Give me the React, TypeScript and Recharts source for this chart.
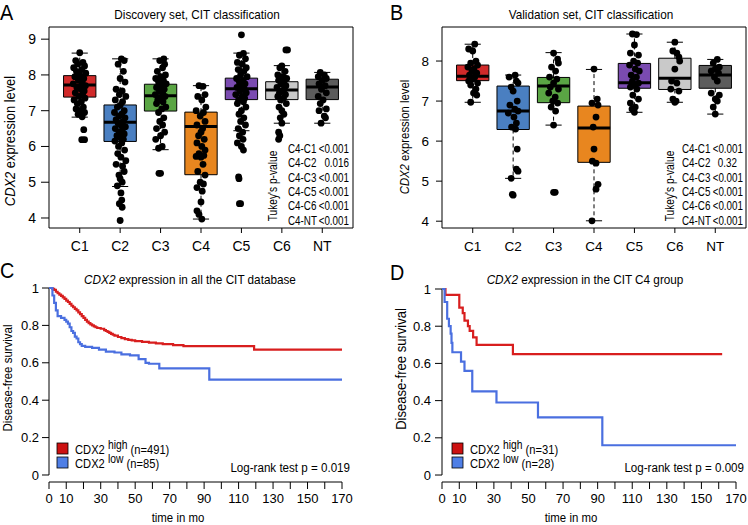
import React from 'react';
import {
  ComposedChart,
  LineChart,
  Line,
  Scatter,
  XAxis,
  YAxis,
  ReferenceArea,
  ReferenceLine,
} from 'recharts';

const FONT = "'Liberation Sans', Arial, sans-serif";

const CATS = ['C1', 'C2', 'C3', 'C4', 'C5', 'C6', 'NT'];
const BOX_COLORS = ['#d12a2a', '#4a7fc1', '#5aa544', '#e8861f', '#7a4bb0', '#c9c9c9', '#5c5c5c'];

// A: discovery set box stats
const A_Q1 = [7.38, 6.14, 6.99, 5.21, 7.31, 7.31, 7.31];
const A_MED = [7.72, 6.68, 7.42, 6.56, 7.61, 7.58, 7.66];
const A_Q3 = [7.98, 7.16, 7.74, 6.96, 7.91, 7.81, 7.88];
const A_LO = [6.82, 4.88, 5.91, 3.97, 6.44, 6.65, 6.65];
const A_HI = [8.61, 8.45, 8.45, 7.7, 8.61, 8.26, 8.07];

// jittered points, [offset, value]
const A_PTS: number[][][] = [
  [[0, 8.62], [-0.1, 8.4], [0.08, 8.35], [-0.05, 8.3], [0.12, 8.25], [-0.15, 8.2], [0.05, 8.15], [-0.08, 8.1], [0.15, 8.05], [0, 8.0], [-0.12, 7.95], [0.1, 7.9], [-0.03, 7.85], [0.06, 7.8], [-0.16, 7.75], [0.14, 7.7], [-0.07, 7.65], [0.03, 7.6], [0.11, 7.55], [-0.11, 7.5], [0.07, 7.45], [-0.02, 7.4], [0.13, 7.35], [-0.14, 7.3], [0.04, 7.25], [-0.06, 7.2], [0.09, 7.1], [-0.09, 7.05], [0.02, 7.0], [0.12, 6.95], [-0.04, 6.9], [0.06, 6.83], [0.1, 6.47], [0.05, 6.19], [0.12, 6.19]],
  [[0.03, 8.45], [0.1, 8.4], [-0.05, 8.3], [0.08, 8.1], [0, 7.9], [0.12, 7.8], [-0.1, 7.6], [0.05, 7.55], [-0.02, 7.45], [0.14, 7.4], [-0.12, 7.3], [0.06, 7.25], [0, 7.15], [-0.07, 7.1], [0.1, 7.0], [-0.14, 6.95], [0.04, 6.9], [-0.03, 6.85], [0.12, 6.8], [-0.1, 6.75], [0.07, 6.7], [-0.05, 6.65], [0.02, 6.6], [0.13, 6.55], [-0.12, 6.5], [0.05, 6.45], [-0.02, 6.4], [0.1, 6.35], [-0.08, 6.3], [0, 6.25], [0.08, 6.2], [-0.13, 6.15], [0.04, 6.1], [-0.04, 6.0], [0.11, 5.9], [-0.06, 5.8], [0.02, 5.7], [0.14, 5.6], [-0.1, 5.5], [0.06, 5.45], [0.1, 5.3], [-0.03, 5.2], [0, 5.1], [0.05, 5.0], [-0.07, 4.9], [0.02, 4.7], [0.04, 4.5], [-0.02, 4.4], [0.05, 4.3], [0, 3.93]],
  [[0.08, 8.45], [-0.02, 8.4], [0.1, 8.3], [0.05, 8.2], [-0.08, 8.1], [0.12, 8.0], [0, 7.95], [-0.12, 7.9], [0.07, 7.85], [-0.05, 7.8], [0.14, 7.75], [0.02, 7.7], [-0.1, 7.65], [0.09, 7.6], [-0.03, 7.55], [0.05, 7.5], [-0.13, 7.45], [0.11, 7.4], [0, 7.35], [-0.07, 7.3], [0.06, 7.25], [-0.1, 7.2], [0.13, 7.1], [0.03, 7.05], [-0.05, 6.95], [0.08, 6.8], [-0.02, 6.7], [0.05, 6.6], [-0.1, 6.5], [0.1, 6.4], [0, 6.3], [-0.12, 6.2], [0.04, 6.0], [-0.05, 5.95], [-0.04, 5.25], [0, 5.25]],
  [[-0.05, 7.7], [0.05, 7.68], [0.1, 7.45], [-0.08, 7.4], [0.02, 7.3], [0.12, 7.1], [-0.12, 7.0], [0.06, 6.95], [-0.02, 6.85], [0.1, 6.7], [-0.1, 6.6], [0.04, 6.5], [0, 6.4], [-0.06, 6.3], [0.08, 6.2], [-0.1, 6.1], [0.02, 6.0], [0.1, 5.9], [-0.05, 5.8], [0.07, 5.75], [-0.12, 5.72], [0, 5.7], [0.05, 5.5], [-0.08, 5.3], [0.1, 5.2], [-0.02, 5.0], [0.06, 4.95], [-0.1, 4.85], [0.03, 4.75], [0, 4.45], [-0.1, 4.2], [-0.05, 4.1], [0.02, 3.97]],
  [[0, 9.12], [0.05, 8.6], [-0.05, 8.55], [0.1, 8.45], [-0.1, 8.35], [0.02, 8.3], [0.12, 8.2], [-0.08, 8.15], [0.06, 8.1], [-0.02, 8.0], [0.14, 7.95], [-0.12, 7.9], [0.04, 7.85], [-0.05, 7.8], [0.09, 7.75], [0, 7.7], [-0.11, 7.65], [0.07, 7.6], [-0.04, 7.55], [0.12, 7.5], [-0.14, 7.45], [0.02, 7.4], [0.08, 7.35], [-0.07, 7.3], [0.05, 7.25], [-0.1, 7.2], [0.11, 7.1], [0, 7.0], [-0.06, 6.9], [0.06, 6.8], [-0.02, 6.7], [0.1, 6.6], [-0.08, 6.5], [0.03, 6.4], [-0.05, 6.3], [0.04, 6.2], [-0.1, 6.1], [0, 6.0], [0.05, 5.9], [-0.07, 5.15], [-0.06, 5.1], [-0.05, 4.4], [-0.02, 4.4]],
  [[0.1, 8.7], [0.14, 8.7], [0, 8.25], [-0.05, 8.2], [0.08, 8.1], [-0.1, 8.0], [0.03, 7.95], [0.12, 7.9], [-0.08, 7.85], [0.05, 7.8], [-0.02, 7.75], [0.1, 7.7], [-0.12, 7.65], [0.06, 7.6], [0, 7.55], [-0.06, 7.5], [0.09, 7.45], [-0.1, 7.4], [0.04, 7.35], [-0.03, 7.3], [0.11, 7.2], [-0.07, 7.1], [0, 7.0], [0.05, 6.9], [-0.04, 6.8], [0, 6.65], [-0.08, 6.4], [-0.05, 6.3], [-0.08, 6.2]],
  [[-0.05, 8.07], [0.05, 8.0], [-0.1, 7.95], [0.1, 7.9], [0, 7.85], [-0.08, 7.75], [0.07, 7.7], [-0.02, 7.6], [0.1, 7.5], [-0.1, 7.4], [0.02, 7.3], [-0.05, 7.2], [0.1, 7.05], [-0.08, 7.0], [0.05, 6.85], [0.08, 6.8], [-0.03, 6.65]],
];

// B: validation set box stats
const B_Q1 = [7.51, 6.29, 6.96, 5.47, 7.32, 7.29, 7.32];
const B_MED = [7.62, 6.75, 7.375, 6.33, 7.46, 7.57, 7.65];
const B_Q3 = [7.9, 7.375, 7.59, 6.875, 7.94, 8.07, 7.89];
const B_LO = [6.97, 5.07, 6.4, 4.01, 6.72, 6.97, 6.675];
const B_HI = [8.42, 7.65, 8.21, 7.79, 8.675, 8.47, 8.04];

const B_PTS: number[][][] = [
  [[0.05, 8.42], [-0.1, 8.3], [0, 8.25], [0.08, 8.0], [-0.05, 7.95], [0.12, 7.9], [-0.12, 7.85], [0.03, 7.8], [-0.02, 7.75], [0.1, 7.7], [-0.08, 7.65], [0.05, 7.6], [0, 7.55], [-0.1, 7.5], [0.12, 7.45], [-0.05, 7.4], [0.08, 7.3], [0.02, 7.2], [0.1, 7.15], [-0.05, 6.97]],
  [[0.05, 7.65], [-0.1, 7.6], [0.08, 7.5], [0.12, 7.45], [-0.05, 7.35], [0, 7.25], [0.1, 7.0], [-0.08, 6.9], [0.04, 6.8], [0.12, 6.75], [-0.12, 6.7], [0.02, 6.6], [0.08, 6.45], [-0.04, 6.35], [0.06, 6.3], [0.1, 5.8], [0.08, 5.3], [0.12, 5.25], [-0.05, 5.07], [-0.02, 4.67], [0, 4.65]],
  [[0, 8.2], [0.1, 8.05], [0.12, 7.95], [-0.05, 7.85], [0.05, 7.75], [-0.1, 7.6], [0.08, 7.55], [0, 7.45], [-0.08, 7.35], [0.12, 7.3], [-0.12, 7.2], [0.04, 7.1], [-0.02, 7.0], [0.1, 6.95], [-0.06, 6.85], [0.05, 6.75], [0, 6.4], [0, 4.72], [0.04, 4.72]],
  [[0, 7.8], [0.08, 7.05], [-0.05, 6.95], [0.1, 6.9], [0.05, 6.6], [-0.02, 6.35], [0, 5.8], [-0.04, 5.5], [0.05, 5.45], [0.1, 4.92], [0.05, 4.8], [-0.05, 4.01]],
  [[-0.05, 8.675], [0.05, 8.66], [0, 8.4], [-0.1, 8.2], [0.1, 8.15], [-0.02, 8.0], [0.08, 7.95], [-0.12, 7.9], [0.02, 7.8], [0.12, 7.75], [-0.08, 7.65], [0.05, 7.6], [-0.05, 7.5], [0.1, 7.45], [0, 7.4], [-0.1, 7.35], [0.06, 7.3], [-0.04, 7.15], [0.1, 7.05], [-0.1, 6.95], [0.02, 6.85], [-0.06, 6.8], [0, 6.72]],
  [[0, 8.47], [-0.05, 8.25], [0.05, 8.2], [0.1, 8.1], [0.12, 8.0], [0, 7.8], [-0.08, 7.5], [0.05, 7.45], [-0.1, 7.3], [0.1, 7.25], [-0.05, 7.05], [0.03, 7.0], [0, 6.97]],
  [[0.05, 8.04], [-0.05, 7.95], [0.1, 7.85], [0, 7.8], [-0.1, 7.75], [0.08, 7.7], [-0.02, 7.6], [0.05, 7.5], [-0.1, 7.2], [0.1, 7.15], [0, 7.05], [0.05, 7.0], [-0.05, 6.85], [0, 6.675]],
];

const TUKEY_LABELS = ['C4-C1', 'C4-C2', 'C4-C3', 'C4-C5', 'C4-C6', 'C4-NT'];
const TUKEY_A = ['<0.001', '0.016', '<0.001', '<0.001', '<0.001', '<0.001'];
const TUKEY_B = ['<0.001', '0.32', '<0.001', '<0.001', '<0.001', '<0.001'];

// C: all CIT database, Kaplan-Meier
const C_HIGH_T = [0, 2, 3, 4, 5, 6, 7, 8, 9, 10, 11, 12, 13, 14, 15, 16, 17, 18, 19, 20, 21, 22, 23, 24, 25, 26, 27, 28, 30, 32, 33, 34, 35, 36, 37, 38, 40, 42, 44, 46, 48, 50, 54, 58, 62, 66, 72, 78, 119, 170];
const C_HIGH_S = [1, 0.995, 0.99, 0.98, 0.972, 0.965, 0.958, 0.95, 0.942, 0.933, 0.925, 0.915, 0.905, 0.897, 0.888, 0.88, 0.87, 0.86, 0.85, 0.84, 0.83, 0.82, 0.812, 0.806, 0.8, 0.795, 0.79, 0.786, 0.782, 0.775, 0.77, 0.765, 0.76, 0.755, 0.75, 0.745, 0.738, 0.732, 0.727, 0.723, 0.72, 0.716, 0.712, 0.708, 0.704, 0.7, 0.695, 0.689, 0.67, 0.67];
const C_LOW_T = [0, 2, 3, 4, 5, 7, 9, 10, 11, 12, 13, 14, 15, 16, 17, 18, 19, 21, 25, 29, 33, 38, 42, 47, 52, 56, 58, 64, 93, 170];
const C_LOW_S = [1, 0.96, 0.92, 0.88, 0.85, 0.84, 0.83, 0.82, 0.81, 0.79, 0.77, 0.76, 0.74, 0.73, 0.71, 0.7, 0.69, 0.685, 0.68, 0.67, 0.66, 0.655, 0.645, 0.64, 0.62, 0.6, 0.595, 0.57, 0.51, 0.51];

// D: CIT C4 group
const D_HIGH_T = [0, 2, 10, 12, 13, 15, 16, 18, 20, 41, 162];
const D_HIGH_S = [1, 0.968, 0.9, 0.87, 0.83, 0.8, 0.775, 0.74, 0.7, 0.65, 0.65];
const D_LOW_T = [0, 1.5, 3, 4, 5, 5.5, 6, 11, 13, 17.5, 31.5, 55.5, 92.7, 170];
const D_LOW_S = [1, 0.93, 0.84, 0.8, 0.76, 0.71, 0.66, 0.61, 0.56, 0.45, 0.39, 0.31, 0.16, 0.16];

const KM_TICKS = [0, 10, 20, 30, 40, 50, 60, 70, 80, 90, 100, 110, 120, 130, 140, 150, 160, 170];
const SURV_TICKS = [0, 0.2, 0.4, 0.6, 0.8, 1];
const RED = '#d81e1e';
const BLUE = '#4a6fe0';

const toPts = (groups: number[][][]) =>
  groups.flatMap((g, i) => g.map(([j, v]) => ({ x: i + 1 + j, y: v })));
const toCurve = (t: number[], s: number[]) => t.map((tt, i) => ({ t: tt, s: s[i] }));

const Dot = (p: any) => <circle cx={p.cx} cy={p.cy} r={3.4} fill="#000" />;

// condensed text (the original uses a narrow face that isn't installed)
const NText = ({ x, y, size, anchor = 'start', rot = false, sx = 0.87, children }: any) => (
  <text
    transform={`translate(${x},${y})${rot ? ' rotate(-90)' : ''} scale(${sx},1)`}
    fontSize={size}
    textAnchor={anchor}
  >
    {children}
  </text>
);

function boxMarks(q1: number[], med: number[], q3: number[], lo: number[], hi: number[]) {
  const out: React.ReactNode[] = [];
  CATS.forEach((c, i) => {
    const x = i + 1;
    out.push(
      <ReferenceLine key={c + 'wu'} segment={[{ x, y: q3[i] }, { x, y: hi[i] }]} stroke="#000" strokeDasharray="4 3" />,
      <ReferenceLine key={c + 'wl'} segment={[{ x, y: q1[i] }, { x, y: lo[i] }]} stroke="#000" strokeDasharray="4 3" />,
      <ReferenceLine key={c + 'cu'} segment={[{ x: x - 0.2, y: hi[i] }, { x: x + 0.2, y: hi[i] }]} stroke="#000" />,
      <ReferenceLine key={c + 'cl'} segment={[{ x: x - 0.2, y: lo[i] }, { x: x + 0.2, y: lo[i] }]} stroke="#000" />,
      <ReferenceArea key={c + 'b'} x1={x - 0.4} x2={x + 0.4} y1={q1[i]} y2={q3[i]} fill={BOX_COLORS[i]} fillOpacity={1} stroke="#000" strokeWidth={1} />,
      <ReferenceLine key={c + 'm'} segment={[{ x: x - 0.4, y: med[i] }, { x: x + 0.4, y: med[i] }]} stroke="#000" strokeWidth={3} />
    );
  });
  return out;
}

type BoxProps = {
  left: number;
  yWidth: number;
  right: number;
  domain: [number, number];
  ticks: number[];
  q1: number[];
  med: number[];
  q3: number[];
  lo: number[];
  hi: number[];
  pts: number[][][];
  tickSize: number;
  tickMargin: number;
  fontSize: number;
};

const BoxPanel = (p: BoxProps) => {
  const xd: [number, number] = [0.24, 7.76];
  return (
    <div style={{ position: 'absolute', left: p.left, top: 0 }}>
      <ComposedChart width={374} height={260} margin={{ top: 27, right: p.right, bottom: 0, left: 0 }}>
        <XAxis
          type="number"
          dataKey="x"
          domain={xd}
          ticks={[1, 2, 3, 4, 5, 6, 7]}
          interval={0}
          tickFormatter={(v: number) => CATS[v - 1]}
          axisLine={false}
          tickSize={5}
          tickMargin={8}
          height={32}
          tick={{ fill: '#000', fontSize: p.fontSize }}
          tickLine={{ stroke: '#000' }}
        />
        <YAxis
          type="number"
          dataKey="y"
          domain={p.domain}
          ticks={p.ticks}
          interval={0}
          width={p.yWidth}
          axisLine={false}
          tickSize={p.tickSize}
          tickMargin={p.tickMargin}
          tick={{ fill: '#000', fontSize: p.fontSize }}
          tickLine={{ stroke: '#000' }}
        />
        {boxMarks(p.q1, p.med, p.q3, p.lo, p.hi)}
        <Scatter data={toPts(p.pts)} fill="#000" shape={Dot} isAnimationActive={false} />
        <ReferenceArea x1={xd[0]} x2={xd[1]} y1={p.domain[0]} y2={p.domain[1]} fill="none" stroke="#000" strokeWidth={1} />
      </ComposedChart>
    </div>
  );
};

type KmProps = {
  left: number;
  yWidth: number;
  right: number;
  top: number;
  high: { t: number; s: number }[];
  low: { t: number; s: number }[];
  tickMargin: number;
};

const KmPanel = (p: KmProps) => (
  <div style={{ position: 'absolute', left: p.left, top: 260 }}>
    <LineChart width={374} height={265} margin={{ top: p.top, right: p.right, bottom: 0, left: 0 }}>
      <XAxis
        type="number"
        dataKey="t"
        domain={[0, 170]}
        ticks={KM_TICKS}
        interval={0}
        tickFormatter={(v: number) => (v >= 20 && v % 20 === 0 ? '' : String(v))}
        axisLine={{ stroke: '#000' }}
        tickLine={{ stroke: '#000' }}
        tickSize={7}
        tickMargin={5}
        height={43}
        tick={{ fill: '#000', fontSize: 13 }}
      />
      <YAxis
        type="number"
        domain={[-0.0375, 1]}
        ticks={SURV_TICKS}
        interval={0}
        width={p.yWidth}
        axisLine={false}
        tickLine={{ stroke: '#000' }}
        tickSize={7}
        tickMargin={p.tickMargin}
        tick={{ fill: '#000', fontSize: 13 }}
      />
      <ReferenceLine segment={[{ x: 0, y: 0 }, { x: 0, y: 1 }]} stroke="#000" />
      <Line data={p.high} dataKey="s" type="stepAfter" stroke={RED} strokeWidth={2.2} dot={false} isAnimationActive={false} />
      <Line data={p.low} dataKey="s" type="stepAfter" stroke={BLUE} strokeWidth={2.2} dot={false} isAnimationActive={false} />
    </LineChart>
  </div>
);

const Tukey = ({ x, xr, vals, rx }: { x: number; xr: number; vals: string[]; rx: number }) => (
  <g>
    <NText x={rx} y={186} size={12} anchor="middle" rot sx={0.85}>Tukey's p-value</NText>
    {TUKEY_LABELS.map((l, i) => (
      <g key={l}>
        <NText x={x} y={153 + i * 14.3} size={12} sx={0.82}>{l}</NText>
        <NText x={vals[i] === '0.32' ? xr - 6 : xr} y={153 + i * 14.3} size={12} sx={0.82} anchor="end">{vals[i]}</NText>
      </g>
    ))}
  </g>
);

const KmLegend = ({ x, y, nHigh, nLow }: { x: number; y: number; nHigh: number; nLow: number }) => (
  <g>
    <rect x={x} y={y} width={11} height={11} fill="#cc1111" stroke="#000" strokeWidth={0.8} />
    <rect x={x} y={y + 14} width={11} height={11} fill="#4f7fe6" stroke="#000" strokeWidth={0.8} />
    <NText x={x + 18} y={y + 11} size={13} sx={0.86}>
      CDX2 <tspan dy={-5} fontSize={12}>high</tspan>
      <tspan dy={5}> (n={nHigh})</tspan>
    </NText>
    <NText x={x + 18} y={y + 25} size={13} sx={0.86}>
      CDX2 <tspan dy={-5} fontSize={12}>low</tspan>
      <tspan dy={5}> (n={nLow})</tspan>
    </NText>
  </g>
);

export default function App() {
  return (
    <div
      style={{
        position: 'absolute',
        left: 0,
        top: 0,
        width: 748,
        height: 525,
        background: '#fff',
        fontFamily: FONT,
        overflow: 'hidden',
      }}
    >
      <BoxPanel left={0} yWidth={49} right={21} domain={[3.72, 9.34]} ticks={[4, 5, 6, 7, 8, 9]}
        q1={A_Q1} med={A_MED} q3={A_Q3} lo={A_LO} hi={A_HI} pts={A_PTS} tickSize={8} tickMargin={5} fontSize={14} />
      <BoxPanel left={374} yWidth={68} right={2} domain={[3.83, 8.85]} ticks={[4, 5, 6, 7, 8]}
        q1={B_Q1} med={B_MED} q3={B_Q3} lo={B_LO} hi={B_HI} pts={B_PTS} tickSize={6} tickMargin={7} fontSize={13.5} />
      <KmPanel left={0} yWidth={49} right={32} top={28} high={toCurve(C_HIGH_T, C_HIGH_S)} low={toCurve(C_LOW_T, C_LOW_S)} tickMargin={3} />
      <KmPanel left={374} yWidth={68} right={12} top={29} high={toCurve(D_HIGH_T, D_HIGH_S)} low={toCurve(D_LOW_T, D_LOW_S)} tickMargin={4} />

      <svg width={748} height={525} style={{ position: 'absolute', left: 0, top: 0, pointerEvents: 'none' }}>
        <g fill="#000">
          <NText x={0} y={20} size={22} sx={0.9}>A</NText>
          <NText x={390} y={20} size={22} sx={0.9}>B</NText>
          <NText x={0} y={278} size={22} sx={0.9}>C</NText>
          <NText x={390} y={280} size={22} sx={0.9}>D</NText>

          <NText x={197} y={19} size={13.5} anchor="middle">Discovery set, CIT classification</NText>
          <NText x={591} y={19} size={13.5} anchor="middle">Validation set, CIT classification</NText>
          <NText x={190} y={284} size={13.5} anchor="middle">
            <tspan fontStyle="italic">CDX2</tspan> expression in all the CIT database
          </NText>
          <NText x={585} y={284} size={13.5} anchor="middle">
            <tspan fontStyle="italic">CDX2</tspan> expression in the CIT C4 group
          </NText>

          <NText x={15} y={141} size={15} anchor="middle" rot sx={0.86}>
            <tspan fontStyle="italic">CDX2</tspan> expression level
          </NText>
          <NText x={409} y={137} size={13.5} anchor="middle" rot sx={0.84}>
            <tspan fontStyle="italic">CDX2</tspan> expression level
          </NText>
          <NText x={12} y={378} size={13.5} anchor="middle" rot sx={0.85}>Disease-free survival</NText>
          <NText x={406} y={369} size={15} anchor="middle" rot sx={0.87}>Disease-free survival</NText>

          <Tukey x={288} xr={349} vals={TUKEY_A} rx={277} />
          <Tukey x={682} xr={743} vals={TUKEY_B} rx={674} />

          <KmLegend x={57} y={443} nHigh={491} nLow={85} />
          <KmLegend x={452} y={443} nHigh={31} nLow={28} />
          <NText x={350} y={472} size={13.5} anchor="end" sx={0.86}>Log-rank test p = 0.019</NText>
          <NText x={744} y={472} size={13.5} anchor="end" sx={0.86}>Log-rank test p = 0.009</NText>

          <NText x={178} y={522} size={13} anchor="middle" sx={0.88}>time in mo</NText>
          <NText x={571} y={522} size={13} anchor="middle" sx={0.88}>time in mo</NText>
        </g>
      </svg>
    </div>
  );
}
